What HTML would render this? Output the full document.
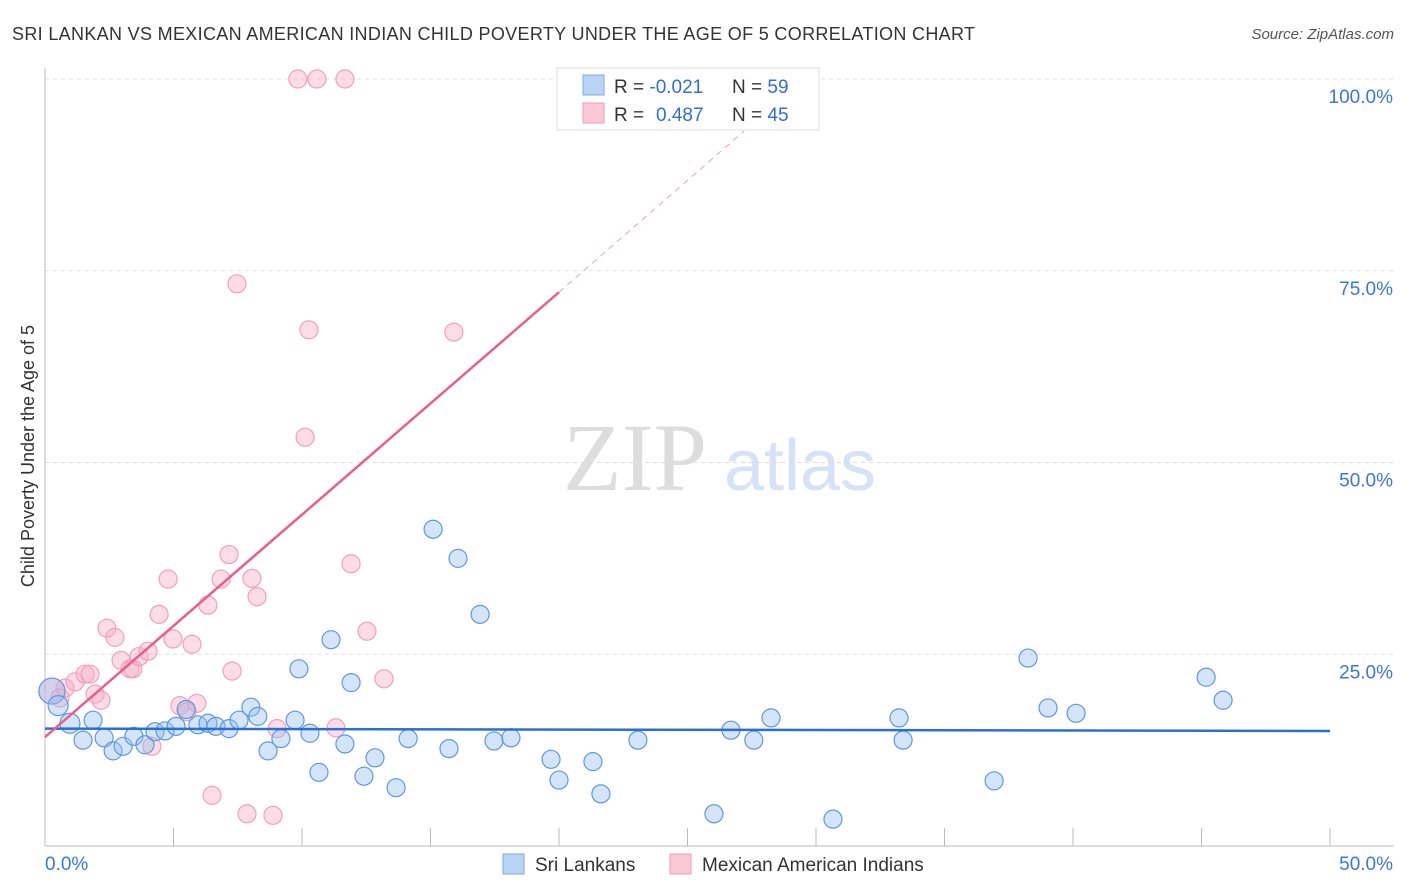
<!DOCTYPE html>
<html><head><meta charset="utf-8"><style>
body{margin:0;background:#fff;font-family:"Liberation Sans",sans-serif}
svg{display:block}
</style></head><body>
<svg id="c" width="1406" height="892">
<text x="12" y="40" font-size="18" fill="#333" textLength="963">SRI LANKAN VS MEXICAN AMERICAN INDIAN CHILD POVERTY UNDER THE AGE OF 5 CORRELATION CHART</text>
<text x="1394" y="39" font-size="15" fill="#555" font-style="italic" text-anchor="end">Source: ZipAtlas.com</text>
<text x="34" y="456" font-size="18" fill="#333" text-anchor="middle" transform="rotate(-90 34 456)">Child Poverty Under the Age of 5</text>
<g><text x="635" y="490" font-size="96" font-family="Liberation Serif" fill="#ddd" text-anchor="middle">ZIP</text><text x="800" y="490" font-size="72" fill="#d6e2f5" text-anchor="middle">atlas</text></g>
<g id="grid"></g><g id="marks"></g>
<g>
<rect x="557" y="68" width="262" height="62" fill="#fff" stroke="#ddd"/>
<rect x="583" y="75" width="21" height="20" fill="#b9d3f5" stroke="#7fa8e0"/>
<rect x="583" y="103" width="21" height="20" fill="#fbc8d8" stroke="#f09ab6"/>
<text x="614" y="93" font-size="19" fill="#333">R = <tspan fill="#2f6fd0">-0.021</tspan><tspan x="732">N = </tspan><tspan fill="#2f6fd0">59</tspan></text>
<text x="614" y="121" font-size="19" fill="#333">R = <tspan fill="#2f6fd0" x="656">0.487</tspan><tspan x="732">N = </tspan><tspan fill="#2f6fd0">45</tspan></text>
</g>
<g>
<rect x="503" y="854" width="21" height="20" fill="#b9d3f5" stroke="#7fa8e0"/>
<text x="535" y="871" font-size="19" fill="#333">Sri Lankans</text>
<rect x="670" y="854" width="21" height="20" fill="#fbc8d8" stroke="#f09ab6"/>
<text x="702" y="871" font-size="19" fill="#333">Mexican American Indians</text>
</g>
</svg>
<script>
const yTicks=[100,75,50,25];
const yTickLabels=["100.0%","75.0%","50.0%","25.0%"];
const xTickLabels=["0.0%","50.0%"];
const blueX=[0.27,0.51,0.97,1.87,1.48,2.30,2.65,3.04,3.46,3.89,4.28,4.67,5.10,5.49,5.95,6.34,6.65,7.16,7.55,8.01,8.28,8.68,9.18,9.73,9.88,10.31,10.66,11.13,11.67,11.91,12.41,12.84,13.66,14.13,15.10,15.72,16.07,16.93,17.47,18.13,19.69,20.00,21.32,21.63,23.07,26.03,26.69,27.58,28.25,30.66,33.23,33.39,36.93,38.25,39.03,40.12,45.18,45.84];
const blueY=[20.2,18.3,16.0,16.4,13.8,14.1,12.4,13.0,14.3,13.2,14.9,15.0,15.6,17.8,15.8,16.0,15.6,15.3,16.4,18.1,16.9,12.4,14.0,16.4,23.1,14.7,9.6,26.9,13.3,21.3,9.1,11.5,7.6,14.0,41.3,12.7,37.5,30.2,13.7,14.1,11.3,8.6,11.0,6.8,13.8,4.2,15.1,13.8,16.7,3.5,16.7,13.8,8.5,24.5,18.0,17.3,22.0,19.0];
const blueR=[14,11,11,10,10,10,10,10,10,10,10,10,10,10,10,10,10,10,10,10,10,10,10,10,10,10,10,10,10,10,10,10,10,10,10,10,10,10,10,10,10,10,10,10,10,10,10,10,10,10,10,10,10,10,10,10,10,10];
const pinkX=[0.27,0.58,0.78,1.17,1.56,1.75,1.95,2.18,2.41,2.72,2.96,3.31,3.42,3.66,4.01,4.44,4.79,4.98,5.25,5.53,5.72,5.91,6.34,6.50,7.16,7.28,6.85,7.47,7.86,8.05,8.25,8.87,9.03,9.84,10.12,10.27,10.58,11.32,11.67,11.91,12.53,13.19,15.91,4.16];
const pinkY=[20.2,19.3,20.6,21.4,22.4,22.4,19.8,19.0,28.4,27.2,24.2,23.1,23.1,24.7,25.4,30.2,34.8,27.0,18.3,17.5,26.3,18.6,31.4,6.6,38.0,22.8,34.8,73.3,4.2,34.9,32.5,4.0,15.3,100,53.3,67.3,100,15.4,100,36.8,28.0,21.8,67.0,13.0];
const blueTrend=[15.3,15.0];
const pinkTrend=[14.2,72.2,93.2];
const X0=45,X1=1330,Y0=846,Y100=79;
const sx=v=>X0+(v/50)*(X1-X0), sy=v=>Y0-(v/100)*(Y0-Y100);
const NS="http://www.w3.org/2000/svg";
function mk(t,a,p){const e=document.createElementNS(NS,t);for(const k in a)e.setAttribute(k,a[k]);p.appendChild(e);return e;}
const g=document.getElementById('grid'),m=document.getElementById('marks');
yTicks.forEach((t,i)=>{
 const l=mk('line',{x1:X0,x2:1394,y1:sy(t),y2:sy(t),stroke:'#ddd','stroke-dasharray':'4,4'},g);
 
 
 const tx=mk('text',{x:1393,y:sy(t)+24,'font-size':19,fill:'#3a78d4','text-anchor':'end'},g);tx.textContent=yTickLabels[i];
 
 
});
const ax=mk('line',{x1:X0,x2:X0,y1:68,y2:Y0,stroke:'#bbb'},g);


const bx=mk('line',{x1:X0,x2:1394,y1:Y0,y2:Y0,stroke:'#bbb'},g);


for(let k=1;k<=10;k++){const x=sx(k*5);const t=mk('line',{x1:x,x2:x,y1:828,y2:Y0,stroke:'#bbb'},g);
 
 }
[[0,'start',45],[50,'end',1393]].forEach((d,i)=>{const t=mk('text',{x:d[2],y:870,'font-size':19,fill:'#3a78d4','text-anchor':d[1]},g);t.textContent=xTickLabels[i];
 
 });
pinkX.forEach((x,i)=>{const c=mk('circle',{cx:sx(x),cy:sy(pinkY[i]),r:i==0?13:9,fill:'rgba(248,170,196,0.4)',stroke:'#f2a0bb','stroke-width':1.2},m);
 
 });
blueX.forEach((x,i)=>{const c=mk('circle',{cx:sx(x),cy:sy(blueY[i]),r:blueR[i]-1,fill:'rgba(150,190,240,0.4)',stroke:'#5f98e0','stroke-width':1.2},m);
 
 });
const bl=mk('line',{x1:sx(0),y1:sy(blueTrend[0]),x2:sx(50),y2:sy(blueTrend[1]),stroke:'#2a6fd6','stroke-width':2.5},m);


const pl=mk('line',{x1:sx(0),y1:sy(pinkTrend[0]),x2:sx(20),y2:sy(pinkTrend[1]),stroke:'#e8608a','stroke-width':2.5},m);


const pd=mk('line',{x1:sx(20),y1:sy(pinkTrend[1]),x2:sx(27.2),y2:sy(pinkTrend[2]),stroke:'#f0a0b8','stroke-width':1,'stroke-dasharray':'6,5'},m);


</script>
</body></html>
